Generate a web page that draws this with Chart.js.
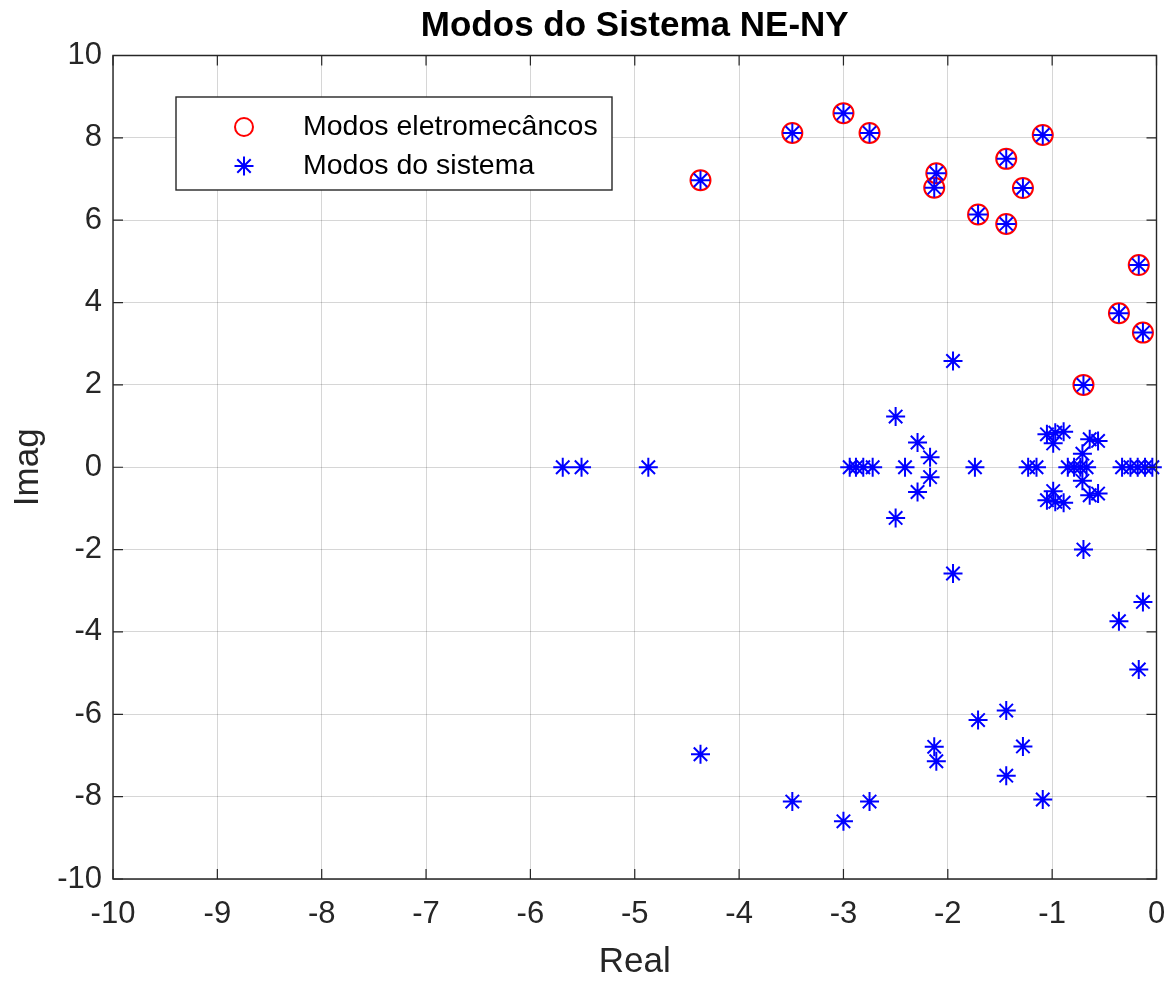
<!DOCTYPE html>
<html>
<head>
<meta charset="utf-8">
<script src="https://cdn.jsdelivr.net/npm/chart.js@4.4.1/dist/chart.umd.min.js"></script>
<style>
  html, body { margin: 0; padding: 0; background: #ffffff; }
  canvas { display: block; }
</style>
</head>
<body>
<canvas id="modes" width="1172" height="981"></canvas>
<script>
// Electromechanical modes (upper half-plane; their conjugates are system modes too)
const emReal = [-4.37, -3.49, -3.00, -2.75, -2.11, -2.13, -1.71, -1.44, -1.44, -1.28, -1.09, -0.17, -0.36, -0.13, -0.70];
const emImag = [ 6.97,  8.12,  8.60,  8.12,  7.14,  6.79,  6.14,  7.49,  5.91,  6.78,  8.07,  4.91,  3.74,  3.27,  2.00];

// Other complex-conjugate system modes (positive imaginary part listed)
const pairReal = [-1.95, -2.50, -2.29, -2.17, -1.05, -0.97, -0.89, -0.99, -0.64, -0.56, -0.71];
const pairImag = [ 2.58,  1.23,  0.60,  0.24,  0.80,  0.84,  0.86,  0.58,  0.68,  0.64,  0.33];

// Real system modes
const realModes = [-5.69, -5.51, -4.87, -2.94, -2.88, -2.81, -2.72, -2.41, -1.74, -1.23, -1.15,
                   -0.85, -0.79, -0.73, -0.67, -0.33, -0.25, -0.18, -0.11, -0.04];

// Tick labels
const xTicks = [-10, -9, -8, -7, -6, -5, -4, -3, -2, -1, 0];
const yTicks = [-10, -8, -6, -4, -2, 0, 2, 4, 6, 8, 10];

const titleText = 'Modos do Sistema NE-NY';
const legendLabels = ['Modos eletromecâncos', 'Modos do sistema'];

const FONT = '"Liberation Sans", Arial, Helvetica, sans-serif';
const AXIS_COLOR = '#262626';
const EM_COLOR = '#ff0000';
const SYS_COLOR = '#0000ff';

const emPoints = emReal.map((r, i) => ({ x: r, y: emImag[i] }));
const sysPoints = [
  ...emPoints,
  ...emPoints.map(p => ({ x: p.x, y: -p.y })),
  ...pairReal.map((r, i) => ({ x: r, y: pairImag[i] })),
  ...pairReal.map((r, i) => ({ x: r, y: -pairImag[i] })),
  ...realModes.map(r => ({ x: r, y: 0 }))
];

// Axes box with inward tick marks on all four sides, plus the title over the axes
const boxPlugin = {
  id: 'axesBox',
  afterDatasetsDraw(chart) {
    const { ctx, chartArea: a, scales } = chart;
    const tl = 10;
    ctx.save();
    ctx.strokeStyle = AXIS_COLOR;
    ctx.lineWidth = 1.4;
    ctx.beginPath();
    ctx.rect(a.left, a.top, a.right - a.left, a.bottom - a.top);
    ctx.stroke();
    ctx.lineWidth = 1.2;
    ctx.beginPath();
    xTicks.forEach(v => {
      const px = scales.x.getPixelForValue(v);
      ctx.moveTo(px, a.bottom); ctx.lineTo(px, a.bottom - tl);
      ctx.moveTo(px, a.top);    ctx.lineTo(px, a.top + tl);
    });
    yTicks.forEach(v => {
      const py = scales.y.getPixelForValue(v);
      ctx.moveTo(a.left, py);  ctx.lineTo(a.left + tl, py);
      ctx.moveTo(a.right, py); ctx.lineTo(a.right - tl, py);
    });
    ctx.stroke();

    ctx.fillStyle = '#000000';
    ctx.font = 'bold 35px ' + FONT;
    ctx.textAlign = 'center';
    ctx.textBaseline = 'middle';
    ctx.fillText(titleText, (a.left + a.right) / 2, 26);
    ctx.restore();
  }
};

// Legend box in the upper-left corner of the axes
const legendPlugin = {
  id: 'insetLegend',
  afterDraw(chart) {
    const { ctx } = chart;
    const bx = 176, by = 97, bw = 436, bh = 93;
    ctx.save();
    ctx.fillStyle = '#ffffff';
    ctx.fillRect(bx, by, bw, bh);
    ctx.strokeStyle = AXIS_COLOR;
    ctx.lineWidth = 1.4;
    ctx.strokeRect(bx, by, bw, bh);

    const mx = 244, tx = 303;
    const rows = [127, 166];
    ctx.lineWidth = 2;
    ctx.fillStyle = 'rgba(0,0,0,0)';
    ctx.strokeStyle = EM_COLOR;
    Chart.helpers.drawPoint(ctx, { pointStyle: 'circle', radius: 9, borderWidth: 2, rotation: 0 }, mx, rows[0]);
    ctx.strokeStyle = SYS_COLOR;
    Chart.helpers.drawPoint(ctx, { pointStyle: 'star', radius: 9.5, borderWidth: 2, rotation: 0 }, mx, rows[1]);

    ctx.fillStyle = '#000000';
    ctx.font = '28.5px ' + FONT;
    ctx.textAlign = 'left';
    ctx.textBaseline = 'middle';
    ctx.fillText(legendLabels[0], tx, rows[0]);
    ctx.fillText(legendLabels[1], tx, rows[1]);
    ctx.restore();
  }
};

new Chart(document.getElementById('modes'), {
  type: 'scatter',
  data: {
    datasets: [
      {
        label: legendLabels[0],
        data: emPoints,
        pointStyle: 'circle',
        pointRadius: 10,
        pointHoverRadius: 10,
        borderColor: EM_COLOR,
        backgroundColor: 'rgba(0,0,0,0)',
        borderWidth: 2,
        clip: false,
        order: 2
      },
      {
        label: legendLabels[1],
        data: sysPoints,
        pointStyle: 'star',
        pointRadius: 9.5,
        pointHoverRadius: 9.5,
        borderColor: SYS_COLOR,
        backgroundColor: SYS_COLOR,
        borderWidth: 2,
        clip: false,
        order: 1
      }
    ]
  },
  options: {
    responsive: false,
    animation: false,
    events: [],
    layout: { padding: { top: 55.5, right: 15.5, bottom: 0, left: 0 } },
    plugins: {
      legend: { display: false },
      tooltip: { enabled: false },
      title: { display: false }
    },
    scales: {
      x: {
        type: 'linear',
        min: -10,
        max: 0,
        afterBuildTicks: s => { s.ticks = xTicks.map(v => ({ value: v })); },
        afterFit: s => { s.height = 102; },
        grid: { color: 'rgba(38,38,38,0.19)', lineWidth: 1, drawTicks: false },
        border: { display: false },
        ticks: {
          color: AXIS_COLOR,
          padding: 0,
          maxRotation: 0,
          autoSkip: false,
          font: { family: FONT, size: 31, lineHeight: 2.3 }
        },
        title: {
          display: true,
          text: 'Real',
          color: AXIS_COLOR,
          font: { family: FONT, size: 35, lineHeight: 1 },
          padding: { top: 0, bottom: 1 }
        }
      },
      y: {
        type: 'linear',
        min: -10,
        max: 10,
        afterBuildTicks: s => { s.ticks = yTicks.map(v => ({ value: v })); },
        afterFit: s => { s.width = 113; },
        grid: { color: 'rgba(38,38,38,0.19)', lineWidth: 1, drawTicks: false },
        border: { display: false },
        ticks: {
          color: AXIS_COLOR,
          padding: 11,
          autoSkip: false,
          font: { family: FONT, size: 31 }
        },
        title: {
          display: true,
          text: 'Imag',
          color: AXIS_COLOR,
          font: { family: FONT, size: 35, lineHeight: 1 },
          padding: { top: 10.5, bottom: 0 }
        }
      }
    }
  },
  plugins: [boxPlugin, legendPlugin]
});
</script>
</body>
</html>
